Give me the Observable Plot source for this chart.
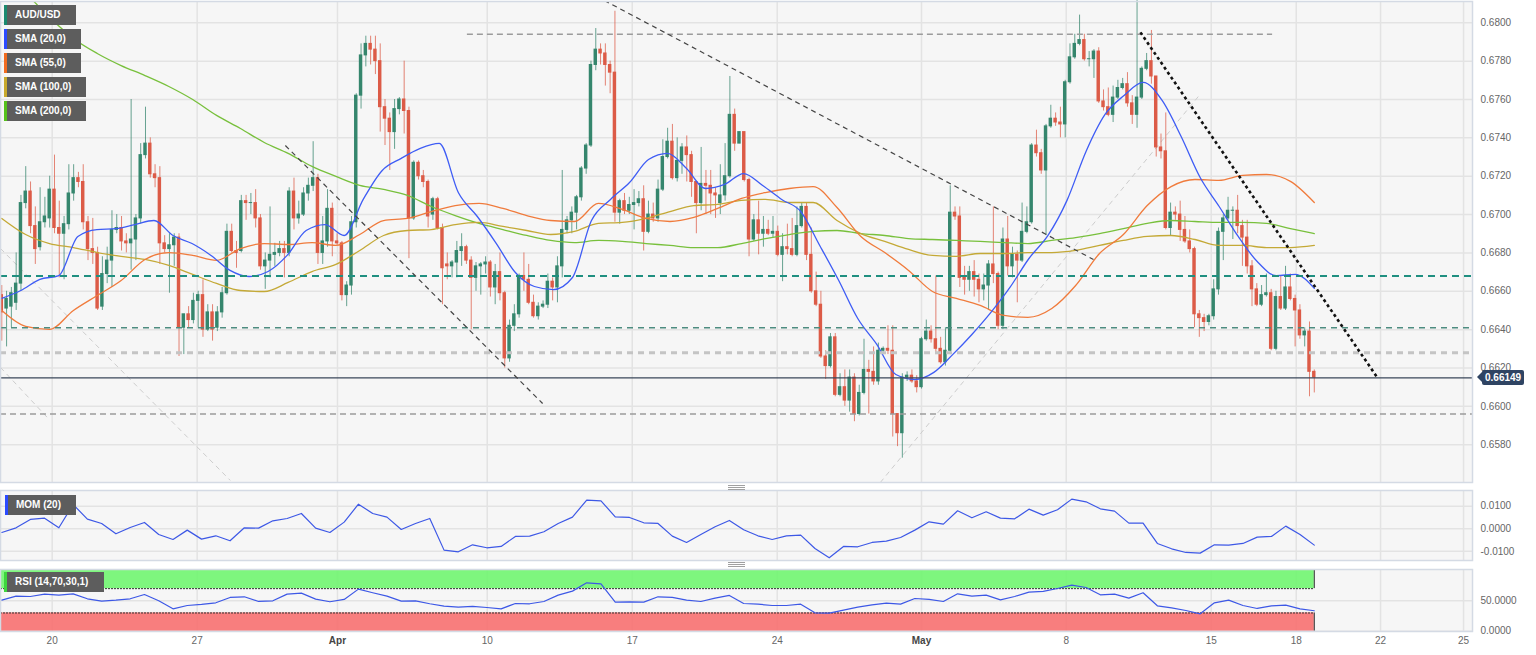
<!DOCTYPE html>
<html>
<head>
<meta charset="utf-8">
<script src="https://cdn.jsdelivr.net/npm/d3@7"></script>
<script src="https://cdn.jsdelivr.net/npm/@observablehq/plot@0.6"></script>
<style>
  html, body { margin: 0; padding: 0; background: #fff; }
  #wrap { position: relative; width: 1536px; height: 655px; overflow: hidden; font-family: "Liberation Sans", Arial, sans-serif; }
  #wrap > svg { position: absolute; left: 0; }
  .leg { position: absolute; height: 20px; line-height: 20px; background: #5d5d5d; color: #fff; font-weight: bold; font-size: 10px; padding-left: 8px; box-sizing: border-box; border-left: 3px solid; white-space: nowrap; }
  .tag { position: absolute; left: 1482px; height: 15px; line-height: 15px; padding: 0 3px; background: #2f4463; color: #fff; font-weight: bold; font-size: 10px; border-radius: 2px; }
  .tag::before { content: ""; position: absolute; left: -5px; top: 2.5px; border-style: solid; border-width: 5px 5px 5px 0; border-color: transparent #2f4463 transparent transparent; }
  .handle { position: absolute; left: 728px; width: 17px; height: 5px; background: repeating-linear-gradient(to bottom, #a0a0a0 0 1px, transparent 1px 2px); }
</style>
</head>
<body>
<div id="wrap"></div>
<script>
// ---------- axis ticks ----------
const priceTicks = [0.658,0.660,0.662,0.664,0.666,0.668,0.670,0.672,0.674,0.676,0.678,0.680];
const momTicks = [-0.01, 0, 0.01];
const rsiTicks = [0, 50];
const dateTickIdx = [10.52,40.79,70.08,101.34,131.61,161.88,192.0,222.21,252.48,270.23,287.83,305.16];
const dateTickLabel = ["20","27","Apr","10","17","24","May","8","15","18","22","25"];

// ---------- AUD/USD 4h candles ----------
const open = [
0.6658,0.6651,0.6652,0.6654,0.6664,0.6706,0.6712,0.6694,0.6683,0.6696,
0.6698,0.6713,0.6693,0.6690,0.6695,0.6711,0.6719,0.6717,0.6696,0.6682,
0.6680,0.6652,0.6669,0.6676,0.6692,0.6693,0.6686,0.6685,0.6687,0.6698,
0.6731,0.6737,0.6721,0.6719,0.6685,0.6682,0.6684,0.6688,0.6641,
0.6648,0.6645,0.6655,0.6658,0.6640,0.6649,0.6641,0.6649,0.6659,0.6691,
0.6681,0.6681,0.6707,0.6706,0.6706,0.6698,0.6673,0.6676,0.6679,0.6680,
0.6682,0.6680,0.6712,0.6698,0.6700,0.6711,0.6715,0.6719,0.6680,0.6686,
0.6703,0.6686,0.6685,0.6658,0.6663,0.6696,0.6762,0.6783,0.6789,0.6786,
0.6780,0.6756,0.6750,0.6743,0.6755,0.6760,0.6754,0.6698,0.6727,0.6720,
0.6717,0.6700,0.6708,0.6693,0.6674,0.6673,0.6675,0.6681,0.6683,0.6676,
0.6667,0.6673,0.6674,0.6675,0.6662,0.6670,0.6659,0.6625,0.6642,0.6648,
0.6668,0.6666,0.6654,0.6647,0.6652,0.6653,0.6665,0.6662,0.6673,0.6692,
0.6697,0.6701,0.6709,0.6724,0.6736,0.6778,0.6786,0.6784,0.6778,0.6774,
0.6701,0.6707,0.6702,0.6705,0.6706,0.6708,0.6691,0.6700,0.6698,0.6713,
0.6730,0.6738,0.6719,0.6728,0.6735,0.6731,0.6717,0.6706,0.6716,0.6715,
0.6711,0.6706,0.6710,0.6720,0.6752,0.6737,0.6743,0.6718,0.6687,0.6697,
0.6690,0.6692,0.6690,0.6691,0.6679,0.6683,0.6682,0.6679,0.6694,0.6704,
0.6679,0.6660,0.6653,0.6626,0.6621,0.6636,0.6606,0.6610,0.6603,0.6615,
0.6596,0.6607,0.6619,0.6618,0.6613,0.6629,0.6630,0.6629,0.6596,0.6586,
0.6615,0.6616,0.6613,0.6610,0.6635,0.6639,0.6635,0.6630,0.6623,0.6629,
0.6701,0.6699,0.6667,0.6666,0.6670,0.6666,0.6661,0.6663,0.6674,0.6669,
0.6642,0.6687,0.6673,0.6679,0.6676,0.6691,0.6696,0.6736,0.6732,0.6723,
0.6746,0.6750,0.6748,0.6747,0.6769,0.6782,0.6789,0.6791,0.6781,0.6781,
0.6785,0.6759,0.6756,0.6752,0.6761,0.6766,0.6768,0.6758,0.6752,0.6761,
0.6776,0.6780,0.6772,0.6735,0.6733,0.6693,0.6701,0.6700,0.6692,0.6686,
0.6682,0.6648,0.6646,0.6644,0.6647,0.6661,
0.6691,0.6698,0.6702,0.6702,0.6694,0.6688,0.6673,0.6661,0.6653,0.6658,
0.6659,0.6630,0.6657,0.6651,0.6662,0.6656,0.6650,0.6637,0.6639,0.6618];
const high = [
0.6663,0.6660,0.6662,0.6680,0.6710,0.6725,0.6717,0.6704,0.6714,0.6709,
0.6720,0.6731,0.6707,0.6699,0.6726,0.6726,0.6722,0.6726,0.6699,0.6698,
0.6683,0.6678,0.6683,0.6702,0.6700,0.6699,0.6690,0.6760,0.6700,0.6737,
0.6756,0.6740,0.6726,0.6725,0.6689,0.6690,0.6690,0.6690,0.6648,
0.6652,0.6659,0.6660,0.6666,0.6653,0.6653,0.6652,0.6662,0.6695,0.6695,
0.6686,0.6710,0.6710,0.6711,0.6713,0.6700,0.6680,0.6704,0.6685,0.6686,
0.6686,0.6714,0.6719,0.6707,0.6714,0.6719,0.6738,0.6721,0.6699,0.6713,
0.6706,0.6690,0.6686,0.6665,0.6699,0.6763,0.6789,0.6793,0.6793,0.6793,
0.6789,0.6760,0.6753,0.6760,0.6761,0.6780,0.6756,0.6728,0.6728,0.6723,
0.6718,0.6709,0.6709,0.6695,0.6680,0.6676,0.6686,0.6690,0.6684,0.6678,
0.6675,0.6675,0.6678,0.6676,0.6674,0.6680,0.6660,0.6645,0.6653,0.6669,
0.6680,0.6674,0.6658,0.6654,0.6655,0.6669,0.6667,0.6678,0.6723,0.6699,
0.6704,0.6710,0.6725,0.6737,0.6780,0.6797,0.6789,0.6789,0.6780,0.6806,
0.6708,0.6711,0.6709,0.6713,0.6712,0.6715,0.6707,0.6706,0.6718,0.6739,
0.6745,0.6747,0.6740,0.6737,0.6741,0.6733,0.6717,0.6735,0.6723,0.6723,
0.6714,0.6726,0.6737,0.6772,0.6755,0.6743,0.6743,0.6719,0.6700,0.6707,
0.6699,0.6697,0.6699,0.6694,0.6690,0.6695,0.6698,0.6704,0.6706,0.6706,
0.6693,0.6670,0.6660,0.6629,0.6638,0.6638,0.6617,0.6619,0.6619,0.6617,
0.6611,0.6635,0.6624,0.6631,0.6633,0.6631,0.6642,0.6642,0.6596,0.6617,
0.6618,0.6619,0.6616,0.6636,0.6645,0.6642,0.6668,0.6636,0.6641,0.6715,
0.6704,0.6704,0.6673,0.6673,0.6676,0.6669,0.6669,0.6676,0.6704,0.6670,
0.6693,0.6699,0.6683,0.6681,0.6706,0.6704,0.6737,0.6744,0.6734,0.6747,
0.6757,0.6753,0.6756,0.6770,0.6789,0.6794,0.6804,0.6794,0.6785,0.6786,
0.6787,0.6765,0.6766,0.6767,0.6770,0.6771,0.6774,0.6762,0.6812,0.6777,
0.6784,0.6796,0.6772,0.6742,0.6753,0.6706,0.6704,0.6707,0.6699,0.6692,
0.6683,0.6650,0.6648,0.6648,0.6666,0.6693,
0.6700,0.6709,0.6704,0.6710,0.6697,0.6697,0.6676,0.6664,0.6663,0.6669,
0.6661,0.6660,0.6668,0.6673,0.6669,0.6658,0.6653,0.6641,0.6644,0.6619];
const low = [
0.6634,0.6631,0.6641,0.6650,0.6660,0.6703,0.6690,0.6674,0.6681,0.6693,
0.6693,0.6690,0.6667,0.6666,0.6692,0.6707,0.6714,0.6692,0.6676,0.6674,
0.6650,0.6650,0.6664,0.6662,0.6690,0.6681,0.6680,0.6671,0.6676,0.6695,
0.6729,0.6719,0.6714,0.6674,0.6680,0.6659,0.6673,0.6626,0.6627,
0.6641,0.6643,0.6641,0.6636,0.6639,0.6634,0.6639,0.6646,0.6658,0.6680,
0.6672,0.6680,0.6697,0.6700,0.6693,0.6671,0.6661,0.6667,0.6673,0.6678,
0.6667,0.6678,0.6692,0.6695,0.6699,0.6707,0.6712,0.6674,0.6674,0.6683,
0.6678,0.6684,0.6655,0.6652,0.6658,0.6693,0.6755,0.6777,0.6778,0.6773,
0.6743,0.6736,0.6723,0.6734,0.6752,0.6742,0.6677,0.6697,0.6718,0.6714,
0.6693,0.6697,0.6692,0.6653,0.6666,0.6667,0.6667,0.6673,0.6674,0.6640,
0.6660,0.6658,0.6669,0.6657,0.6653,0.6655,0.6620,0.6623,0.6639,0.6646,
0.6660,0.6653,0.6646,0.6645,0.6651,0.6651,0.6655,0.6654,0.6667,0.6690,
0.6690,0.6692,0.6707,0.6721,0.6735,0.6775,0.6778,0.6767,0.6763,0.6696,
0.6695,0.6700,0.6700,0.6692,0.6704,0.6681,0.6690,0.6696,0.6696,0.6712,
0.6729,0.6718,0.6717,0.6721,0.6717,0.6709,0.6690,0.6702,0.6700,0.6700,
0.6698,0.6700,0.6707,0.6719,0.6733,0.6737,0.6717,0.6678,0.6686,0.6679,
0.6683,0.6689,0.6688,0.6678,0.6665,0.6679,0.6678,0.6678,0.6693,0.6676,
0.6659,0.6652,0.6625,0.6614,0.6620,0.6605,0.6605,0.6600,0.6597,0.6592,
0.6595,0.6606,0.6596,0.6611,0.6611,0.6627,0.6627,0.6584,0.6579,0.6573,
0.6613,0.6612,0.6607,0.6609,0.6634,0.6633,0.6627,0.6622,0.6621,0.6627,
0.6697,0.6662,0.6658,0.6660,0.6657,0.6654,0.6655,0.6650,0.6664,0.6640,
0.6640,0.6668,0.6667,0.6654,0.6675,0.6690,0.6695,0.6730,0.6721,0.6689,
0.6745,0.6746,0.6740,0.6740,0.6768,0.6781,0.6788,0.6780,0.6777,0.6771,
0.6758,0.6754,0.6751,0.6748,0.6760,0.6765,0.6756,0.6747,0.6745,0.6760,
0.6775,0.6768,0.6730,0.6729,0.6692,0.6689,0.6697,0.6686,0.6685,0.6680,
0.6641,0.6636,0.6639,0.6642,0.6645,0.6658,
0.6676,0.6697,0.6687,0.6690,0.6673,0.6669,0.6652,0.6652,0.6652,0.6657,
0.6629,0.6629,0.6650,0.6650,0.6655,0.6631,0.6635,0.6631,0.6605,0.6607];
const close = [
0.6649,0.6656,0.6659,0.6664,0.6706,0.6712,0.6694,0.6682,0.6696,0.6699,
0.6713,0.6693,0.6690,0.6695,0.6711,0.6719,0.6717,0.6696,0.6682,0.6680,
0.6651,0.6669,0.6676,0.6692,0.6693,0.6686,0.6685,0.6687,0.6698,0.6731,
0.6737,0.6721,0.6719,0.6685,0.6682,0.6684,0.6688,0.6641,0.6648,
0.6645,0.6655,0.6658,0.6640,0.6649,0.6640,0.6649,0.6659,0.6691,0.6681,
0.6680,0.6707,0.6706,0.6706,0.6698,0.6673,0.6676,0.6679,0.6680,0.6682,
0.6680,0.6712,0.6698,0.6700,0.6711,0.6715,0.6719,0.6680,0.6686,0.6703,
0.6686,0.6685,0.6658,0.6663,0.6696,0.6762,0.6783,0.6789,0.6786,0.6780,
0.6756,0.6750,0.6743,0.6755,0.6760,0.6754,0.6698,0.6727,0.6720,0.6717,
0.6699,0.6708,0.6693,0.6672,0.6673,0.6675,0.6681,0.6683,0.6676,0.6667,
0.6673,0.6674,0.6675,0.6662,0.6670,0.6659,0.6625,0.6642,0.6648,0.6668,
0.6666,0.6654,0.6647,0.6652,0.6653,0.6665,0.6662,0.6673,0.6692,0.6697,
0.6701,0.6709,0.6724,0.6736,0.6778,0.6786,0.6784,0.6778,0.6774,0.6701,
0.6707,0.6702,0.6705,0.6706,0.6708,0.6691,0.6700,0.6698,0.6713,0.6730,
0.6738,0.6719,0.6728,0.6735,0.6731,0.6717,0.6706,0.6716,0.6715,0.6711,
0.6710,0.6710,0.6720,0.6752,0.6737,0.6743,0.6718,0.6687,0.6697,0.6690,
0.6692,0.6690,0.6691,0.6679,0.6683,0.6682,0.6679,0.6694,0.6704,0.6679,
0.6660,0.6653,0.6626,0.6621,0.6636,0.6606,0.6610,0.6603,0.6615,0.6596,
0.6607,0.6619,0.6618,0.6613,0.6629,0.6630,0.6629,0.6596,0.6586,0.6615,
0.6616,0.6613,0.6610,0.6635,0.6639,0.6635,0.6630,0.6623,0.6629,0.6701,
0.6699,0.6667,0.6666,0.6670,0.6666,0.6661,0.6663,0.6674,0.6669,0.6642,
0.6687,0.6673,0.6679,0.6676,0.6691,0.6696,0.6736,0.6732,0.6723,0.6746,
0.6750,0.6748,0.6747,0.6769,0.6782,0.6789,0.6791,0.6781,0.6781,0.6785,
0.6759,0.6756,0.6752,0.6761,0.6766,0.6768,0.6758,0.6752,0.6761,0.6776,
0.6780,0.6772,0.6735,0.6733,0.6693,0.6701,0.6700,0.6692,0.6686,0.6682,
0.6648,0.6646,0.6644,0.6647,0.6661,0.6691,
0.6698,0.6702,0.6702,0.6694,0.6688,0.6673,0.6661,0.6653,0.6658,0.6659,
0.6630,0.6657,0.6651,0.6662,0.6656,0.6650,0.6637,0.6639,0.6618,0.6615];

// ---------- moving averages (evenly sampled from first to last candle) ----------
const sma20 = [
0.66563,0.66604,0.66662,0.66682,0.66886,0.66922,0.66927,0.66948,0.66969,0.66891,
0.66849,0.66787,0.66709,0.66677,0.66703,0.66787,0.66917,0.66948,0.66891,0.67079,
0.67230,0.67293,0.67345,0.67371,0.67115,0.66990,0.66849,0.66698,0.66625,0.66609,
0.66672,0.66969,0.67079,0.67167,0.67287,0.67319,0.67240,0.67136,0.67157,0.67214,
0.67152,0.67079,0.67016,0.66839,0.66656,0.66458,0.66323,0.66166,0.66140,0.66177,
0.66271,0.66375,0.66490,0.66620,0.66771,0.66891,0.67074,0.67329,0.67522,0.67621,
0.67689,0.67595,0.67407,0.67193,0.67042,0.66886,0.66755,0.66682,0.66688,0.66615];
const sma55 = [
0.66500,0.66417,0.66401,0.66500,0.66578,0.66656,0.66766,0.66802,0.66787,0.66761,
0.66823,0.66849,0.66844,0.66854,0.66839,0.66896,0.66969,0.66980,0.67016,0.67047,
0.67058,0.67032,0.66995,0.66969,0.66964,0.67058,0.67027,0.66980,0.66964,0.66985,
0.67032,0.67084,0.67115,0.67136,0.67146,0.67037,0.66886,0.66802,0.66709,0.66599,
0.66563,0.66526,0.66474,0.66464,0.66510,0.66630,0.66797,0.66896,0.67047,0.67146,
0.67183,0.67178,0.67204,0.67209,0.67173,0.67063];
const sma100 = [
0.66980,0.66896,0.66849,0.66828,0.66802,0.66782,0.66766,0.66735,0.66688,0.66641,
0.66604,0.66599,0.66646,0.66703,0.66740,0.66813,0.66891,0.66917,0.66922,0.66948,
0.66959,0.66938,0.66917,0.66896,0.66912,0.66954,0.66959,0.66980,0.67016,0.67047,
0.67053,0.67074,0.67079,0.67063,0.67063,0.66969,0.66901,0.66860,0.66818,0.66787,
0.66782,0.66797,0.66797,0.66802,0.66802,0.66813,0.66839,0.66865,0.66886,0.66891,
0.66870,0.66839,0.66839,0.66828,0.66828,0.66839];
const sma200 = [
0.68247,0.68153,0.68028,0.67918,0.67840,0.67777,0.67725,0.67668,0.67600,0.67517,
0.67449,0.67376,0.67319,0.67251,0.67199,0.67152,0.67131,0.67100,0.67042,0.66995,
0.66954,0.66922,0.66891,0.66865,0.66854,0.66865,0.66860,0.66849,0.66839,0.66828,
0.66828,0.66849,0.66875,0.66896,0.66912,0.66917,0.66901,0.66891,0.66875,0.66870,
0.66865,0.66860,0.66854,0.66849,0.66865,0.66880,0.66901,0.66927,0.66954,0.66969,
0.66964,0.66959,0.66959,0.66954,0.66927,0.66901];

// ---------- oscillators (evenly sampled) ----------
const mom20 = [
-0.00163,0.00044,0.00415,0.00474,0.00044,0.01081,0.00430,0.00237,-0.00222,0.00059,
0.00281,-0.00252,-0.00474,-0.00059,-0.00459,-0.00311,-0.00533,0.00044,0.00030,0.00356,
0.00459,0.00681,0.00030,-0.00163,0.00296,0.01096,0.00681,0.00519,-0.00030,0.00237,
0.00459,-0.00948,-0.01022,-0.00711,-0.00844,-0.00785,-0.00341,-0.00326,-0.00133,0.00237,
0.00519,0.01274,0.01244,0.00533,0.00504,0.00267,0.00237,-0.00326,-0.00607,-0.00252,
0.00089,0.00370,-0.00044,-0.00311,-0.00474,-0.00311,-0.00281,-0.00874,-0.01289,-0.00785,
-0.00800,-0.00607,-0.00548,-0.00385,-0.00059,0.00311,0.00207,0.00800,0.00489,0.00756,
0.00474,0.00444,0.00874,0.00607,0.00844,0.01319,0.01200,0.00889,0.00785,0.00252,
0.00252,-0.00652,-0.00889,-0.01052,-0.01081,-0.00711,-0.00726,-0.00652,-0.00370,-0.00341,
0.00119,-0.00252,-0.00726];
const rsi14 = [
51.1,57.7,57.1,61.0,59.3,61.5,53.3,49.5,51.1,53.3,
60.4,50.0,36.8,42.3,44.0,46.7,55.5,56.6,48.9,50.0,
61.0,62.6,52.7,48.4,52.2,69.2,63.2,57.7,49.5,50.0,
45.1,41.2,39.6,40.7,39.0,36.8,45.6,45.1,48.9,59.3,
65.9,79.6,78.0,47.8,48.4,47.8,56.6,55.5,51.1,48.9,
54.4,58.8,45.6,44.5,42.3,42.3,44.5,30.3,29.7,34.6,
39.6,43.4,46.2,44.5,53.8,52.2,48.9,61.5,57.7,59.3,
51.6,57.1,64.3,65.4,70.3,75.8,71.9,59.9,61.0,54.4,
63.2,41.8,38.5,34.1,28.6,46.7,51.1,42.3,37.4,41.8,
42.9,36.8,33.6];
const rsiUpperBand = [70, 100];
const rsiLowerBand = [0, 30];

// ---------- drawn levels and trend lines (candle index, price) ----------
const lastPrice = 0.66149;
const levels = [0.6668, 0.6641, 0.6628, 0.6596];
const topLevel = [97.2, 265.3, 0.6794];
const trendDotted = [237.7, 0.6795, 287.2, 0.66149];
const trendDashA = [125.8, 0.68116, 227.9, 0.66766];
const trendDashB = [59.2, 0.6736, 112.9, 0.66015];
const faintLines = [
  [-0.27, 0.66823, 47.7, 0.65614],
  [-0.27, 0.66203, 9.5, 0.65942],
  [183.4, 0.65603, 250.3, 0.67631]
];

// ---------- build ----------
const font = '"Liberation Sans", Arial, sans-serif';
const N = close.length;
const candles = close.map((c, i) => ({i, o: open[i], h: high[i], l: low[i], c}));
const ups = candles.filter(d => d.c >= d.o);
const downs = candles.filter(d => d.c < d.o);
const series = vals => vals.map((v, j) => ({i: j * (N - 1) / (vals.length - 1), v}));
const seg = a => ({x1: a[0], y1: a[1], x2: a[2], y2: a[3]});
const linkCh = {x1: "x1", y1: "y1", x2: "x2", y2: "y2"};
const xDom = [-0.27, 307.03];
const UP = "#35866d", DOWN = "#dc5b47";
const FRAME = "#d4dae4", PANEL = "#f6f6f6", GRID = "#e3e3e3";
const common = {
  width: 1536, marginLeft: 0, marginRight: 64,
  x: {domain: xDom, axis: null},
  style: {background: "transparent", fontFamily: font}
};
const yLabels = (ticks) => Plot.text(ticks, {y: d => d, text: d => d.toFixed(4), frameAnchor: "right", textAnchor: "start", dx: 8, fill: "#666", fontSize: 10});

const main = Plot.plot({
  ...common, height: 484, marginTop: 1, marginBottom: 2,
  y: {domain: [0.65603, 0.68111], axis: null},
  marks: [
    Plot.frame({fill: PANEL, stroke: "none"}),
    Plot.ruleY(priceTicks, {stroke: GRID, strokeWidth: 1.5}),
    Plot.ruleX(dateTickIdx, {stroke: GRID, strokeWidth: 1.5}),
    Plot.link(faintLines.map(seg), {...linkCh, stroke: "#cdcdcd", strokeWidth: 1, strokeDasharray: "5,4", clip: true}),
    Plot.ruleX(ups, {x: "i", y1: "l", y2: "h", stroke: UP, strokeOpacity: 0.75}),
    Plot.ruleX(downs, {x: "i", y1: "l", y2: "h", stroke: DOWN, strokeOpacity: 0.75}),
    Plot.rect(ups, {x1: d => d.i - 0.36, x2: d => d.i + 0.36, y1: "o", y2: "c", fill: UP, insetTop: -0.5, insetBottom: -0.5}),
    Plot.rect(downs, {x1: d => d.i - 0.36, x2: d => d.i + 0.36, y1: "o", y2: "c", fill: DOWN, insetTop: -0.5, insetBottom: -0.5}),
    Plot.line(series(sma200), {x: "i", y: "v", stroke: "#78c03c", strokeWidth: 1.3, curve: "monotone-x", clip: true}),
    Plot.line(series(sma100), {x: "i", y: "v", stroke: "#c4a936", strokeWidth: 1.3, curve: "monotone-x", clip: true}),
    Plot.line(series(sma55), {x: "i", y: "v", stroke: "#f07b3c", strokeWidth: 1.3, curve: "monotone-x", clip: true}),
    Plot.line(series(sma20), {x: "i", y: "v", stroke: "#3e5cf5", strokeWidth: 1.3, curve: "monotone-x", clip: true}),
    Plot.ruleY([levels[2]], {stroke: "#c4c4c4", strokeWidth: 3, strokeDasharray: "6,5"}),
    Plot.ruleY([levels[3]], {stroke: "#9c9c9c", strokeWidth: 1.5, strokeDasharray: "6,4"}),
    Plot.ruleY([topLevel[2]], {x1: () => topLevel[0], x2: () => topLevel[1], stroke: "#9c9c9c", strokeWidth: 1.5, strokeDasharray: "6,4"}),
    Plot.ruleY([levels[0]], {stroke: "#1f8f80", strokeWidth: 2, strokeDasharray: "7,5"}),
    Plot.ruleY([levels[1]], {stroke: "#4d8c80", strokeWidth: 1.5, strokeDasharray: "6,5"}),
    Plot.ruleY([lastPrice], {stroke: "#3a475a", strokeWidth: 1.2}),
    Plot.link([seg(trendDashB)], {...linkCh, stroke: "#444", strokeWidth: 1.2, strokeDasharray: "5,4", clip: true}),
    Plot.link([seg(trendDashA)], {...linkCh, stroke: "#444", strokeWidth: 1.2, strokeDasharray: "5,4", clip: true}),
    Plot.link([seg(trendDotted)], {...linkCh, stroke: "#111", strokeWidth: 2.6, strokeDasharray: "3,3", clip: true}),
    Plot.frame({stroke: FRAME, strokeWidth: 1.5}),
    yLabels(priceTicks)
  ]
});

const momChart = Plot.plot({
  ...common, height: 76, marginTop: 4, marginBottom: 2,
  y: {domain: [-0.01409, 0.01702], axis: null},
  marks: [
    Plot.frame({fill: PANEL, stroke: "none"}),
    Plot.ruleY(momTicks, {stroke: GRID, strokeWidth: 1.5}),
    Plot.ruleX(dateTickIdx, {stroke: GRID, strokeWidth: 1.5}),
    Plot.line(series(mom20), {x: "i", y: "v", stroke: "#3d58e6", strokeWidth: 1.2}),
    Plot.frame({stroke: FRAME, strokeWidth: 1.5}),
    yLabels(momTicks)
  ]
});

const dateTicks = dateTickIdx.map((i, k) => ({i, label: dateTickLabel[k]}));
const bandEdge = {stroke: "#2f2f2f", strokeWidth: 1};
const rsiChart = Plot.plot({
  ...common, height: 90, marginTop: 4, marginBottom: 24,
  y: {domain: [-0.5, 101.5], axis: null},
  marks: [
    Plot.frame({fill: PANEL, stroke: "none"}),
    Plot.ruleY(rsiTicks, {stroke: GRID, strokeWidth: 1.5}),
    Plot.ruleX(dateTickIdx, {stroke: GRID, strokeWidth: 1.5}),
    Plot.rect([rsiUpperBand], {x1: () => xDom[0], x2: () => N - 1, y1: d => d[0], y2: d => d[1], fill: "#74f574", fillOpacity: 0.93}),
    Plot.rect([rsiLowerBand], {x1: () => xDom[0], x2: () => N - 1, y1: d => d[0], y2: d => d[1], fill: "#f87474", fillOpacity: 0.93}),
    Plot.ruleY([rsiUpperBand[0], rsiLowerBand[1]], {x1: () => xDom[0], x2: () => N - 1, ...bandEdge, strokeDasharray: "2,1"}),
    Plot.ruleX([N - 1], {y1: () => rsiUpperBand[0], y2: () => rsiUpperBand[1], ...bandEdge}),
    Plot.ruleX([N - 1], {y1: () => rsiLowerBand[0], y2: () => rsiLowerBand[1], ...bandEdge}),
    Plot.line(series(rsi14), {x: "i", y: "v", stroke: "#3d58e6", strokeWidth: 1.2}),
    Plot.frame({stroke: FRAME, strokeWidth: 1.5}),
    yLabels(rsiTicks),
    Plot.text(dateTicks.filter(d => /\d/.test(d.label)), {x: "i", text: "label", frameAnchor: "bottom", dy: 12, fill: "#666", fontSize: 10}),
    Plot.text(dateTicks.filter(d => !/\d/.test(d.label)), {x: "i", text: "label", frameAnchor: "bottom", dy: 12, fill: "#444", fontSize: 10, fontWeight: "bold"})
  ]
});

const wrap = document.getElementById("wrap");
[[main, 0], [momChart, 486], [rsiChart, 565]].forEach(([svg, top]) => {
  svg.style.position = "absolute";
  svg.style.top = top + "px";
  svg.style.left = "0px";
  wrap.appendChild(svg);
});

// legends (HTML overlays)
const legends = [
  {t: "AUD/USD", c: "#1b8a70", x: 4, y: 5, w: 72},
  {t: "SMA (20,0)", c: "#2b4bff", x: 4, y: 29, w: 77},
  {t: "SMA (55,0)", c: "#f26c21", x: 4, y: 53, w: 77},
  {t: "SMA (100,0)", c: "#c8a92c", x: 4, y: 77, w: 82},
  {t: "SMA (200,0)", c: "#55c21b", x: 4, y: 101, w: 82},
  {t: "MOM (20)", c: "#2b4bff", x: 5, y: 495, w: 71},
  {t: "RSI (14,70,30,1)", c: "#3ed63e", x: 4, y: 572, w: 100}
];
legends.forEach(l => {
  const d = document.createElement("div");
  d.className = "leg";
  d.textContent = l.t;
  Object.assign(d.style, {left: l.x + "px", top: l.y + "px", width: l.w + "px", borderLeftColor: l.c});
  wrap.appendChild(d);
});

// last price tag
const tag = document.createElement("div");
tag.className = "tag";
tag.textContent = lastPrice.toFixed(5);
tag.style.top = (main.scale("y").apply(lastPrice) - 7.5) + "px";
wrap.appendChild(tag);

// panel resize handles
[485, 562].forEach(t => {
  const h = document.createElement("div");
  h.className = "handle";
  h.style.top = t + "px";
  wrap.appendChild(h);
});
</script>
</body>
</html>
